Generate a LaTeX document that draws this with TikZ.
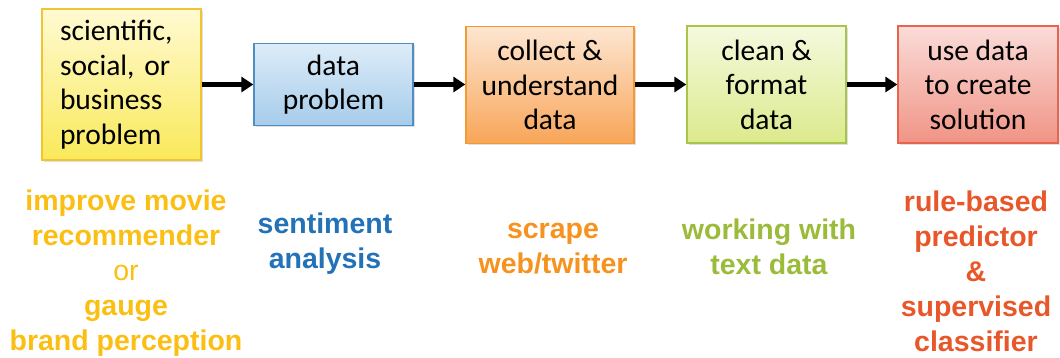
\documentclass[tikz,border=0pt]{standalone}
\usepackage{fontspec}
\setmainfont{Carlito}
\newfontfamily\labelfont{Liberation Sans}
\usetikzlibrary{arrows.meta,shadows}
\definecolor{yelB}{HTML}{F2C530}
\definecolor{yelT}{HTML}{FFFAD2}
\definecolor{yelD}{HTML}{F9E95A}
\definecolor{bluB}{HTML}{4F8EC4}
\definecolor{bluT}{HTML}{DDECF8}
\definecolor{bluD}{HTML}{A6CCEB}
\definecolor{orgB}{HTML}{F39A32}
\definecolor{orgT}{HTML}{FDE6D2}
\definecolor{orgD}{HTML}{F8A558}
\definecolor{grnB}{HTML}{A9C44C}
\definecolor{grnT}{HTML}{F4F9DE}
\definecolor{grnD}{HTML}{DCEA8C}
\definecolor{redB}{HTML}{E9644F}
\definecolor{redT}{HTML}{FADCD9}
\definecolor{redD}{HTML}{F09485}
\definecolor{lyel}{HTML}{FBBF14}
\definecolor{lblu}{HTML}{2372B8}
\definecolor{lorg}{HTML}{F6921E}
\definecolor{lgrn}{HTML}{9BBB3B}
\definecolor{lred}{HTML}{E8572A}
\begin{document}
\begin{tikzpicture}[x=1pt,y=-1pt,
  stagebox/.style={draw=#1B, line width=1.3pt, top color=#1T, bottom color=#1D,
    inner sep=0pt, align=center, text=black,
    font=\frenchspacing\fontsize{29.5}{34.5}\selectfont,
    drop shadow={opacity=0.25, shadow xshift=1.5pt, shadow yshift=-1.5pt}},
  flowarrow/.style={line width=5pt, -{Triangle[length=12pt,width=15pt]}},
  lbl/.style={text=#1, align=center, inner sep=0pt,
    font=\labelfont\bfseries\fontsize{28.5}{35}\selectfont}]
\useasboundingbox (0,0) rectangle (1060,357);
\node[stagebox=yel, minimum width=159pt, minimum height=151pt, text width=123pt, align=left] (b1) at (121.5,84.5)
  {scientific,\\\mbox{social, or}\\business\\problem};
\node[stagebox=blu, minimum width=159pt, minimum height=82pt] (b2) at (333.5,84.5)
  {data\\problem};
\node[stagebox=org, minimum width=168pt, minimum height=117pt] (b3) at (550,85)
  {collect \&\\understand\\data};
\node[stagebox=grn, minimum width=159pt, minimum height=117pt] (b4) at (766.5,84.5)
  {clean \&\\format\\data};
\node[stagebox=red, minimum width=160pt, minimum height=117pt] (b5) at (978,84.5)
  {use data\\to create\\solution};
\draw[flowarrow] (b1.east) -- (b1.east -| b2.west);
\draw[flowarrow] (b2.east) -- (b2.east -| b3.west);
\draw[flowarrow] (b3.east |- b4.west) -- (b4.west);
\draw[flowarrow] (b4.east) -- (b4.east -| b5.west);
\node[lbl=lyel] (l1) at (126,273.5)
  {improve movie\\recommender\\{\mdseries or}\\gauge\\brand perception};
\node[lbl=lblu] (l2) at (325,243.5) {sentiment\\analysis};
\node[lbl=lorg] (l3) at (553,248.5) {scrape\\web/twitter};
\node[lbl=lgrn] (l4) at (769,246.5) {working with\\text data};
\node[lbl=lred] (l5) at (976,271.5)
  {rule-based\\predictor\\\&\\supervised\\classifier};
\end{tikzpicture}
\end{document}
